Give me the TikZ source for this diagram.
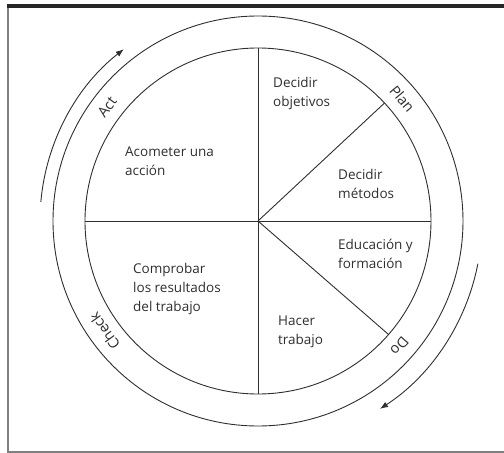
\documentclass[tikz,border=0pt]{standalone}
\usepackage{fontspec}
\setmainfont{Open Sans}
\usetikzlibrary{arrows.meta}
\definecolor{ink}{HTML}{2E2E2E}
\tikzset{
  txt/.style={anchor=west,align=left,text=ink,font=\fontsize{13.5}{19}\selectfont,inner sep=0pt},
  lbl/.style={text=ink,font=\fontsize{14.5}{15}\selectfont,inner sep=0pt},
  ln/.style={draw=ink,line width=0.9pt},
  arr/.style={draw=ink,line width=0.9pt,-{Latex[length=8pt,width=6pt]}}
}
\begin{document}
\begin{tikzpicture}[x=1pt,y=1pt]
\useasboundingbox (-258,-232) rectangle (246,221);
% frame
\fill[black!85] (-251,213) rectangle (246,217);
\draw[black!50,line width=1.5pt] (-250,213) -- (-250,-231) -- (246,-231);
% circles
\coordinate (c) at (0,0);
\draw[ln] (c) circle (173);
\draw[ln] (c) circle (205);
\coordinate (t) at (90:173);
\coordinate (b) at (-90:173);
\coordinate (l) at (180:173);
\coordinate (r) at (0:173);
\coordinate (p) at (43:173);
\coordinate (d) at (-41:173);
\draw[ln] (t) -- (b);
\draw[ln] (l) -- (r);
\draw[ln] (c) -- (p);
\draw[ln] (c) -- (d);
% arrows
\draw[arr] (175:218) arc (175:128:218);
\draw[arr] (-11:224) arc (-11:-57:224);
% ring labels
\node[lbl,rotate=-50] (plan) at (40.2:189) {Plan};
\node[lbl,rotate=-131.5] (do) at (-41.5:189) {Do};
\node[lbl,rotate=53] (act) at (143:189) {Act};
\node[lbl,rotate=125.7] (check) at (215.7:189) {Check};
% sector texts
\node[txt] (n1) at (15,128) {Decidir\\objetivos};
\node[txt] (n2) at (80,37) {Decidir\\métodos};
\node[txt] (n3) at (-133,60) {Acometer una\\acción};
\node[txt] (n4) at (80,-32.5) {Educación y\\formación};
\node[txt] (n5) at (20,-111) {Hacer\\trabajo};
\node[txt] (n6) at (-125,-68) {Comprobar\\los resultados\\del trabajo};
\end{tikzpicture}
\end{document}
